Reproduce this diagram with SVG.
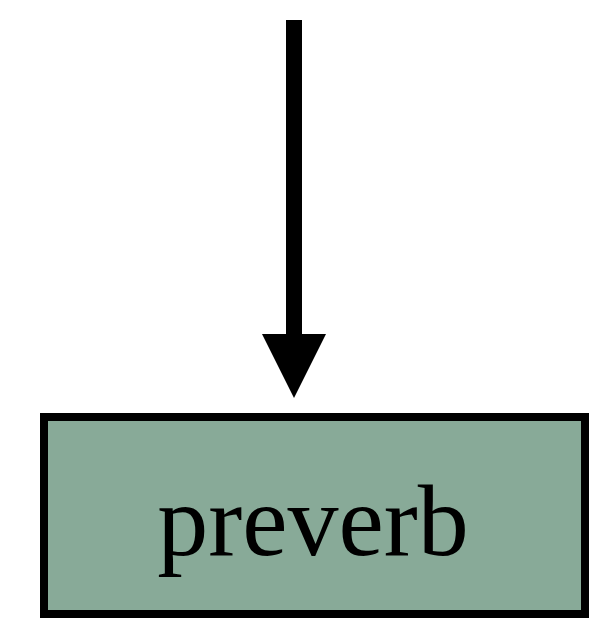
<svg xmlns="http://www.w3.org/2000/svg" width="590" height="619" viewBox="0 0 590 619">
<style>
.node rect{fill:#88aa98;stroke:#000;stroke-width:8}
.node text{font-family:"Liberation Serif",serif;font-size:102px;fill:#000;text-anchor:middle}
.edge line{stroke:#000;stroke-width:16}
</style>
<g id="connectors" class="edge">
<line x1="294" y1="20" x2="294" y2="336"/>
<polygon points="262,334 326,334 294,398" fill="#000"/>
</g>
<g id="preverb" class="node">
<rect x="44" y="417" width="541" height="197"/>
<text x="313" y="555">preverb</text>
</g>
</svg>
